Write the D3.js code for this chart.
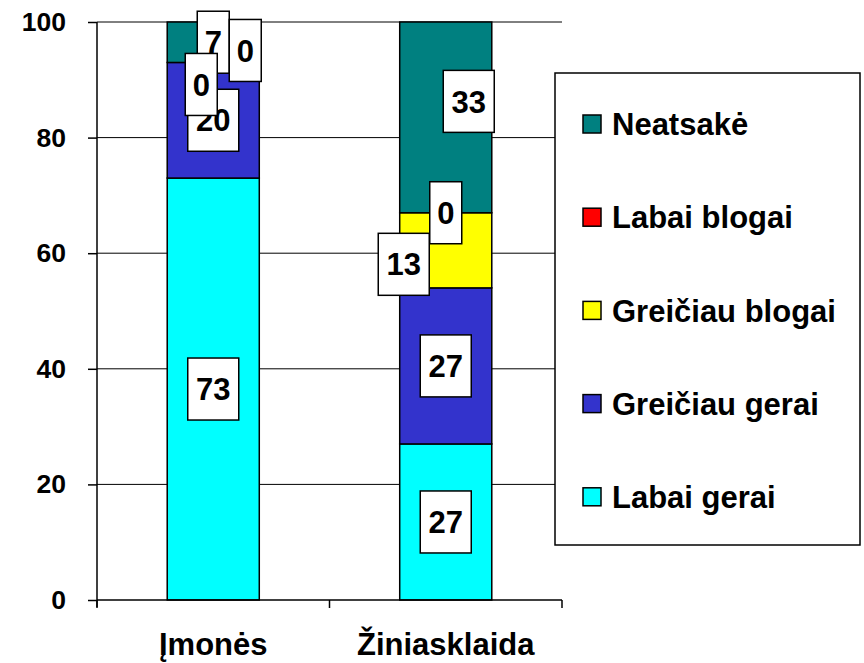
<!DOCTYPE html>
<html>
<head>
<meta charset="utf-8">
<script src="https://cdn.jsdelivr.net/npm/d3@7"></script>
<style>
  html, body { margin: 0; padding: 0; background: #fff; }
  svg { display: block; font-family: "Liberation Sans", Arial, sans-serif; font-weight: bold; }
</style>
</head>
<body>
<svg id="chart" width="864" height="663"></svg>
<script>
// Survey answers, percentage per group
const categories = ["Įmonės", "Žiniasklaida"];
const seriesNames = ["Labai gerai", "Greičiau gerai", "Greičiau blogai", "Labai blogai", "Neatsakė"];
const labaiGerai     = [73, 27];
const greiciauGerai  = [20, 27];
const greiciauBlogai = [0, 13];
const labaiBlogai    = [0, 0];
const neatsake       = [7, 33];
const yTicks = [0, 20, 40, 60, 80, 100];

const seriesValues = [labaiGerai, greiciauGerai, greiciauBlogai, labaiBlogai, neatsake];
const colors = ["#00FFFF", "#3333CC", "#FFFF00", "#FF0000", "#008080"];

// Nudges for data labels that would otherwise sit on top of each other
const labelNudge = {
  "Įmonės|Greičiau blogai": [-12, 22],
  "Įmonės|Labai blogai": [32, -12],
  "Žiniasklaida|Greičiau blogai": [-42, 14],
  "Žiniasklaida|Neatsakė": [23, -16]
};

const svg = d3.select("#chart");
const plotLeft = 97, plotRight = 562, plotTop = 22, plotBottom = 600;

const rows = categories.map((c, i) => {
  const r = { category: c };
  seriesNames.forEach((s, j) => r[s] = seriesValues[j][i]);
  return r;
});
const stacked = d3.stack().keys(seriesNames)(rows);

const x = d3.scaleBand().domain(categories).range([plotLeft, plotRight])
  .paddingInner(0.604).paddingOuter(0.302);
const y = d3.scaleLinear().domain([0, 100]).range([plotBottom, plotTop]);

// Horizontal gridlines
svg.append("g").selectAll("line").data(yTicks.filter(t => t > 0)).join("line")
  .attr("x1", plotLeft).attr("x2", plotRight)
  .attr("y1", d => y(d)).attr("y2", d => y(d))
  .attr("stroke", "#000").attr("stroke-width", 1);

// Stacked bars
svg.append("g").selectAll("g").data(stacked).join("g")
  .attr("fill", (d, i) => colors[i])
  .selectAll("rect").data(d => d.filter(p => p[1] - p[0] > 0)).join("rect")
  .attr("x", d => x(d.data.category))
  .attr("width", x.bandwidth())
  .attr("y", d => y(d[1]))
  .attr("height", d => y(d[0]) - y(d[1]))
  .attr("stroke", "#000").attr("stroke-width", 1.5);

// Y axis
const yAxis = svg.append("g").attr("transform", `translate(${plotLeft},0)`)
  .call(d3.axisLeft(y).tickValues(yTicks).tickSize(9).tickPadding(22).tickSizeOuter(0));
yAxis.select(".domain").attr("d", `M0,${plotTop}V${plotBottom + 7}`).attr("stroke", "#000").attr("stroke-width", 1.5);
yAxis.selectAll(".tick line").attr("stroke", "#000").attr("stroke-width", 1.5);
yAxis.selectAll(".tick text").attr("font-size", 26.5).attr("font-family", "Liberation Sans, Arial, sans-serif")
  .attr("font-weight", "bold").attr("fill", "#000");

// X axis with ticks between categories
const xg = svg.append("g");
xg.append("line").attr("x1", plotLeft).attr("x2", plotRight).attr("y1", plotBottom).attr("y2", plotBottom)
  .attr("stroke", "#000").attr("stroke-width", 1.5);
const boundaries = [plotLeft, ...categories.slice(1).map(c => x(c) - x.step() * x.paddingInner() / 2), plotRight];
xg.selectAll("line.tk").data(boundaries).join("line").attr("class", "tk")
  .attr("x1", d => d).attr("x2", d => d).attr("y1", plotBottom).attr("y2", plotBottom + 8)
  .attr("stroke", "#000").attr("stroke-width", 1.5);
xg.selectAll("text").data(categories).join("text")
  .attr("x", d => x(d) + x.bandwidth() / 2).attr("y", 655)
  .attr("text-anchor", "middle").attr("font-size", 31).text(d => d);

// Data labels in white boxes
const labelData = [];
stacked.forEach((s, si) => s.forEach(p => {
  const key = p.data.category + "|" + s.key;
  const nudge = labelNudge[key] || [0, 0];
  labelData.push({
    value: p[1] - p[0],
    cx: x(p.data.category) + x.bandwidth() / 2 + nudge[0],
    cy: y((p[0] + p[1]) / 2) + nudge[1],
    order: si
  });
}));
// draw order so that the nudged boxes overlap as intended
const drawOrder = [0, 1, 4, 3, 2];
labelData.sort((a, b) => drawOrder.indexOf(a.order) - drawOrder.indexOf(b.order));

const lg = svg.append("g").selectAll("g").data(labelData).join("g")
  .attr("transform", d => `translate(${d.cx},${d.cy})`);
lg.each(function (d) {
  const g = d3.select(this);
  const w = String(d.value).length > 1 ? 51 : 32;
  g.append("rect").attr("x", -w / 2).attr("y", -31).attr("width", w).attr("height", 62)
    .attr("fill", "#fff").attr("stroke", "#000").attr("stroke-width", 1.5);
  g.append("text").attr("text-anchor", "middle").attr("dy", "0.36em")
    .attr("font-size", 31).text(d.value);
});

// Legend
const legend = svg.append("g");
legend.append("rect").attr("x", 555).attr("y", 73).attr("width", 305).attr("height", 472)
  .attr("fill", "#fff").attr("stroke", "#000").attr("stroke-width", 1.5);
const legendItems = seriesNames.map((s, i) => ({ name: s, color: colors[i] })).reverse();
const li = legend.selectAll("g").data(legendItems).join("g")
  .attr("transform", (d, i) => `translate(0,${124 + i * 93.2})`);
li.append("rect").attr("x", 583).attr("y", -9).attr("width", 18).attr("height", 18)
  .attr("fill", d => d.color).attr("stroke", "#000").attr("stroke-width", 1.5);
li.append("text").attr("x", 612).attr("dy", "0.36em").attr("font-size", 31).text(d => d.name);
</script>
</body>
</html>
